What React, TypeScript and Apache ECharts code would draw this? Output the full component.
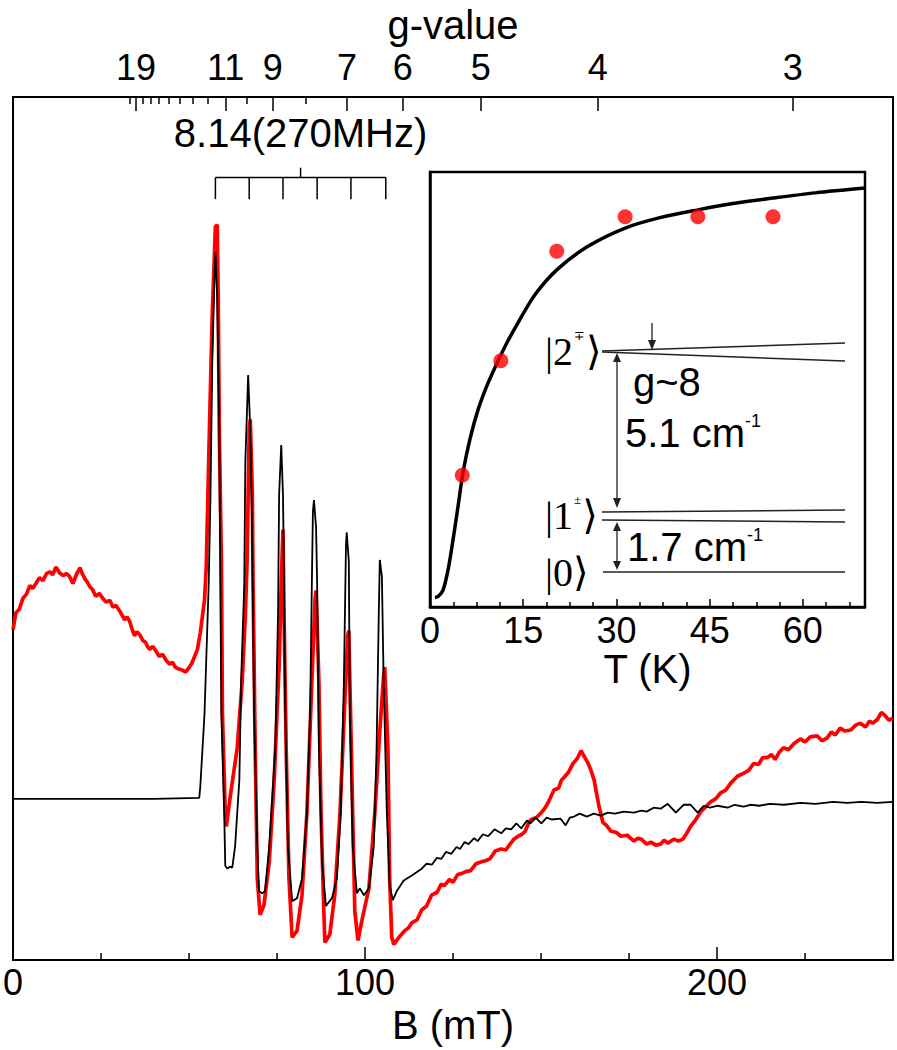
import React, { useEffect, useRef } from "react";
import * as echarts from "echarts";

// ---------- constants / data ----------
const NU_GHZ = 9.3; // microwave frequency
const H_OVER_MUB = 71.448; // mT per GHz for g = 1
const gToB = (g: number) => (H_OVER_MUB * NU_GHZ) / g;

const B_LABELS = [0, 100, 200];
const B_MAJOR_TICKS = [100, 200];
const B_MINOR_TICKS = [25, 50, 75, 125, 150, 175, 225];

const G_LABELS = [19, 11, 9, 7, 6, 5, 4, 3];
const G_MINOR = [20, 18, 17, 16, 15, 14, 13, 12, 10, 8];

const T_LABELS = [0, 15, 30, 45, 60];
const T_MINOR = [3.75, 7.5, 11.25, 18.75, 22.5, 26.25, 33.75, 37.5, 41.25, 48.75, 52.5, 56.25, 63.75, 67.5];

// bracket for the 8.14 (270 MHz) hyperfine pattern (mT)
const BRACKET_B = [57.5, 67.1, 76.7, 86.4, 96.0, 105.9];
const BRACKET_LABEL = "8.14(270MHz)";

// EPR spectrum, black trace: [B (mT), intensity (a.u.)]
const blackSpectrum: [number, number][] = [
  [0, 0.1], [20, 0.1], [40, 0.1], [52.9, 0.2], [53.2, 1.3], [54.4, 8.7], [55.6, 22.0], [56.1, 31.0],
  [56.6, 44.3], [57.2, 52.7], [57.5, 55.7], [58.0, 51.0], [58.6, 37.7], [58.9, 22.0], [59.2, 8.7],
  [60.0, -1.3], [60.3, -6.7], [60.9, -7.0], [61.6, -6.8], [62.3, -6.9], [63.1, -4.7], [64.3, 2.0],
  [64.8, 12.0], [65.7, 22.0], [66.0, 34.3], [66.8, 43.2], [67.4, 37.7], [67.9, 27.7], [68.5, 8.7],
  [69.4, -4.7], [69.9, -9.3], [70.8, -9.5], [71.6, -9.3], [72.8, -4.7], [74.5, 5.3], [75.3, 19.0],
  [75.6, 31.0], [76.2, 36.1], [76.7, 31.0], [77.0, 22.0], [77.3, 10.0], [78.1, -4.7], [79.3, -10.3],
  [80.7, -10.0], [82.1, -8.0], [83.5, -1.3], [84.4, 8.7], [84.9, 22.0], [85.2, 29.3], [85.5, 30.5],
  [86.1, 27.7], [86.4, 22.0], [86.9, 5.3], [87.8, -6.3], [88.9, -10.8], [90.6, -10.0], [92.0, -8.0],
  [93.1, -1.3], [94.0, 12.0], [94.6, 26.0], [94.8, 27.2], [95.4, 24.3], [95.7, 8.7], [96.5, -4.7],
  [97.7, -9.5], [98.5, -9.0], [99.7, -9.7], [101.1, -9.0], [102.5, -4.7], [103.3, 5.3], [103.9, 18.7],
  [104.2, 24.4], [104.8, 22.7], [105.3, 12.0], [106.2, -1.3], [107.0, -8.7], [107.9, -10.2],
  [109.0, -9.3], [111.0, -8.2], [113.3, -7.7], [116.1, -7.0], [117.5, -6.5], [119.0, -6.6],
  [120.4, -5.9], [121.7, -6.0], [123.0, -5.3], [124.5, -5.5], [126.0, -4.8], [127.0, -5.0],
  [128.3, -4.3], [129.4, -4.5], [131.0, -3.9], [132.0, -4.2], [133.5, -3.5], [135.0, -3.7],
  [136.8, -3.0], [138.7, -3.4], [140.0, -2.9], [141.5, -3.0], [143.0, -2.4], [144.4, -2.9],
  [146.0, -2.1], [147.0, -2.4], [148.5, -1.8], [150.1, -2.4], [151.6, -1.8], [153.0, -2.0],
  [155.5, -1.9], [157.0, -2.6], [158.2, -1.8], [159.4, -1.7], [161.0, -1.4], [163.0, -1.7],
  [165.0, -1.4], [167.0, -1.6], [169.0, -1.3], [171.0, -1.4], [173.5, -1.2], [176.4, -1.3],
  [178.5, -1.1], [180.0, -1.2], [182.0, -0.8], [184.0, -0.9], [186.0, -0.4], [188.3, -1.3],
  [190.5, -0.5], [192.5, -0.5], [194.5, -1.3], [196.2, -0.6], [198.0, -0.8], [200.2, -0.6],
  [203.0, -0.8], [205.0, -0.5], [207.5, -0.7], [209.5, -0.5], [212.0, -0.6], [215.0, -0.4],
  [219.0, -0.5], [223.7, -0.3], [228.0, -0.4], [233.0, -0.2], [237.0, -0.3], [241.0, -0.2],
  [245.5, -0.3], [250.0, -0.2],
];

// EPR spectrum, red trace: [B (mT), intensity (a.u.)]
const redSpectrum: [number, number][] = [
  [0.0, 17.3], [0.8, 19.0], [1.8, 19.4], [2.8, 20.5], [3.8, 20.9], [4.8, 21.8], [5.6, 21.5],
  [6.5, 22.0], [7.5, 22.6], [8.5, 22.3], [9.5, 23.0], [10.5, 23.2], [11.3, 22.9], [12.2, 23.7],
  [13.2, 23.1], [14.2, 22.8], [15.2, 23.0], [16.1, 22.7], [17.0, 22.0], [18.0, 22.9], [19.0, 23.6],
  [19.7, 23.0], [20.4, 22.5], [21.2, 22.1], [21.8, 21.7], [22.6, 21.4], [23.5, 20.7], [24.5, 21.0],
  [25.5, 20.5], [26.5, 20.1], [27.5, 20.3], [28.4, 19.6], [29.2, 19.8], [30.5, 19.1], [31.7, 18.3],
  [32.4, 18.6], [33.1, 18.2], [33.8, 17.4], [34.5, 16.7], [35.2, 17.1], [36.0, 16.8], [36.9, 16.2],
  [37.7, 16.0], [38.2, 15.6], [38.8, 15.3], [39.7, 15.6], [40.5, 15.2], [41.5, 14.6], [42.5, 14.8],
  [43.5, 14.2], [44.5, 13.8], [45.3, 14.0], [46.1, 13.5], [47.1, 13.3], [48.1, 13.2], [49.1, 13.0],
  [50.1, 13.5], [50.8, 13.9], [51.5, 14.5], [52.4, 15.3], [53.2, 17.0], [54.4, 20.3], [54.9, 23.7],
  [55.8, 37.7], [56.6, 49.3], [57.5, 58.3], [58.0, 58.5], [58.3, 51.0], [58.6, 37.7], [59.2, 24.3],
  [59.5, 8.7], [60.3, -1.3], [60.6, -2.7], [61.7, 0.3], [63.7, 5.3], [65.1, 12.0], [66.0, 18.7],
  [66.5, 24.3], [67.1, 37.7], [67.4, 38.7], [68.0, 31.0], [68.2, 22.0], [68.8, 5.3], [69.4, -8.0],
  [70.2, -11.7], [71.3, -10.7], [72.8, -6.3], [74.2, 2.0], [75.6, 13.7], [76.2, 22.0], [76.7, 27.5],
  [77.0, 18.7], [77.6, 5.3], [78.4, -8.0], [79.3, -14.0], [80.7, -13.3], [82.1, -9.7], [83.5, -1.3],
  [84.9, 12.0], [85.8, 20.3], [86.1, 21.3], [86.9, 12.0], [87.5, -1.3], [88.3, -11.3], [88.6, -14.5],
  [90.0, -13.7], [91.4, -9.7], [92.9, -1.3], [94.3, 10.3], [95.1, 16.7], [95.4, 17.2], [95.7, 12.0],
  [96.5, -1.3], [97.1, -11.3], [98.0, -14.3], [99.1, -12.3], [101.1, -9.0], [102.8, -1.3],
  [104.2, 7.0], [105.3, 12.7], [105.6, 13.5], [106.5, 5.3], [107.0, -8.0], [107.6, -14.0],
  [108.2, -14.7], [109.6, -14.0], [111.3, -13.3], [112.4, -13.0], [113.3, -12.5], [114.8, -12.2],
  [116.1, -11.2], [117.5, -10.8], [118.9, -9.7], [120.5, -9.4], [121.6, -8.6], [122.6, -8.7],
  [124.0, -8.1], [125.0, -8.4], [126.3, -7.6], [127.4, -7.5], [128.6, -7.3], [130.0, -7.2],
  [131.5, -6.5], [133.1, -6.3], [134.2, -6.2], [135.5, -6.0], [137.0, -5.2], [138.7, -5.0],
  [140.0, -5.1], [141.0, -4.6], [142.3, -4.0], [143.5, -3.7], [144.6, -3.5], [145.5, -3.2],
  [146.4, -2.4], [147.2, -2.0], [148.7, -1.8], [150.1, -1.3], [151.0, -0.9], [152.0, -0.3],
  [152.9, 0.4], [153.7, 1.0], [155.0, 1.2], [155.8, 2.0], [156.6, 2.3], [157.8, 2.8], [159.1, 3.7],
  [160.3, 4.2], [161.4, 5.0], [162.3, 4.4], [163.4, 3.7], [164.2, 3.0], [165.1, 2.0], [165.8, 0.6],
  [166.5, -0.7], [167.6, -2.3], [168.6, -2.6], [169.9, -3.2], [171.3, -3.3], [172.7, -3.7],
  [174.5, -3.6], [176.4, -4.2], [177.5, -3.9], [178.5, -4.0], [180.0, -4.5], [181.2, -4.3],
  [182.6, -4.6], [184.0, -4.5], [185.0, -4.1], [186.0, -4.4], [187.7, -4.0], [189.0, -4.2],
  [190.3, -4.0], [191.4, -3.4], [192.5, -2.7], [194.0, -2.0], [195.4, -1.2], [196.8, -0.7],
  [198.2, -0.2], [199.6, 0.1], [201.0, 0.7], [202.5, 1.0], [203.9, 1.7], [205.8, 2.4], [207.5, 2.7],
  [209.0, 3.0], [210.4, 3.7], [211.8, 3.6], [213.0, 4.3], [214.3, 4.3], [215.5, 4.6], [216.5, 4.1],
  [217.8, 4.9], [218.9, 5.3], [220.3, 5.1], [221.8, 5.7], [223.7, 6.2], [225.0, 5.9], [226.5, 6.4],
  [228.5, 6.5], [229.8, 6.0], [231.3, 6.3], [232.5, 6.9], [233.6, 6.6], [235.0, 7.3], [236.3, 7.0],
  [238.0, 7.1], [239.4, 7.6], [240.7, 7.8], [242.2, 7.4], [243.3, 8.0], [244.3, 7.8], [245.6, 8.2],
  [246.7, 8.9], [247.7, 8.6], [248.8, 8.1], [250.0, 8.3],
];

// inset: temperature dependence [T (K), normalized intensity]
const insetTemps = [5.2, 11.4, 20.4, 31.4, 43.1, 55.2];
const insetIntensity = [0.303, 0.566, 0.818, 0.897, 0.897, 0.897];
const insetFit: [number, number][] = [
  [0.8, 0.022], [1.3, 0.024], [2.1, 0.039], [2.9, 0.085], [3.7, 0.154], [4.5, 0.23], [5.3, 0.308],
  [6.4, 0.384], [7.7, 0.452], [9.2, 0.51], [10.8, 0.561], [12.4, 0.608], [14.5, 0.662],
  [17.0, 0.72], [20.4, 0.775], [25.3, 0.828], [31.4, 0.871], [37.0, 0.895], [43.1, 0.913],
  [49.0, 0.928], [55.2, 0.94], [62.0, 0.952], [70.0, 0.963],
];

const FONT = '"Liberation Sans", Arial, Helvetica, sans-serif';
const SERIF = '"Liberation Serif", "DejaVu Serif", "DejaVu Sans", serif';

export default function App() {
  const ref = useRef<HTMLDivElement>(null);

  useEffect(() => {
    document.body.style.margin = "0";
    if (!ref.current) return;
    const chart = echarts.init(ref.current, undefined, { renderer: "svg" });

    const tickStyle = { color: "#000", width: 1.5 };
    const labelBase = { color: "#000", fontSize: 36, fontFamily: FONT };
    const nameStyle = { color: "#000", fontSize: 40, fontFamily: FONT };
    const levelRich = {
      a: { fontSize: 40, fontFamily: SERIF, color: "#444", lineHeight: 44 },
      s: { fontSize: 13, fontFamily: SERIF, color: "#444", verticalAlign: "top", lineHeight: 30, padding: [0, 1, 0, 1] },
    };

    const option: any = {
      animation: false,
      backgroundColor: "#fff",
      grid: [
        { left: 10, right: 4, top: 85, bottom: 87, show: true, borderColor: "#000", borderWidth: 2, containLabel: false },
        { left: 430, top: 172, width: 435, height: 435, show: true, borderColor: "#000", borderWidth: 2.5, backgroundColor: "#fff", containLabel: false },
      ],
      xAxis: [
        {
          type: "value", gridIndex: 0, position: "bottom", min: 0, max: 250,
          axisLine: { show: true, onZero: false, lineStyle: { color: "#000", width: 2 } },
          axisTick: { show: true, inside: true, length: 7, customValues: B_MINOR_TICKS, lineStyle: tickStyle },
          axisLabel: { show: true, customValues: B_LABELS, margin: 4, ...labelBase },
          splitLine: { show: false },
          name: "B (mT)", nameLocation: "middle", nameGap: 39, nameTextStyle: nameStyle,
        },
        {
          type: "value", gridIndex: 0, position: "bottom", min: 0, max: 250,
          axisLine: { show: false, onZero: false },
          axisTick: { show: true, inside: true, length: 13, customValues: B_MAJOR_TICKS, lineStyle: tickStyle },
          axisLabel: { show: false }, splitLine: { show: false },
        },
        {
          type: "value", gridIndex: 0, position: "top", min: 0, max: 250,
          axisLine: { show: true, onZero: false, lineStyle: { color: "#000", width: 2 } },
          axisTick: { show: true, inside: true, length: 14, customValues: G_LABELS.map(gToB), lineStyle: tickStyle },
          axisLabel: {
            show: true, customValues: G_LABELS.map(gToB), margin: 11, ...labelBase,
            formatter: (v: number) => String(Math.round((H_OVER_MUB * NU_GHZ) / v)),
          },
          splitLine: { show: false },
          name: "g-value", nameLocation: "middle", nameGap: 40, nameTextStyle: nameStyle,
        },
        {
          type: "value", gridIndex: 0, position: "top", min: 0, max: 250,
          axisLine: { show: false, onZero: false },
          axisTick: { show: true, inside: true, length: 7, customValues: G_MINOR.map(gToB), lineStyle: tickStyle },
          axisLabel: { show: false }, splitLine: { show: false },
        },
        {
          type: "value", gridIndex: 1, position: "bottom", min: 0, max: 70,
          axisLine: { show: true, onZero: false, lineStyle: { color: "#000", width: 2.5 } },
          axisTick: { show: true, inside: true, length: 8, customValues: T_LABELS, lineStyle: tickStyle },
          axisLabel: { show: true, customValues: T_LABELS, margin: 5, ...labelBase },
          splitLine: { show: false },
          name: "T (K)", nameLocation: "middle", nameGap: 40, nameTextStyle: nameStyle,
        },
        {
          type: "value", gridIndex: 1, position: "bottom", min: 0, max: 70,
          axisLine: { show: false, onZero: false },
          axisTick: { show: true, inside: true, length: 5, customValues: T_MINOR, lineStyle: tickStyle },
          axisLabel: { show: false }, splitLine: { show: false },
        },
      ],
      yAxis: [
        {
          type: "value", gridIndex: 0, min: -16.3, max: 71.5,
          axisLine: { show: true, onZero: false, lineStyle: { color: "#000", width: 2 } },
          axisTick: { show: false }, axisLabel: { show: false }, splitLine: { show: false },
        },
        {
          type: "value", gridIndex: 1, min: 0, max: 1,
          axisLine: { show: true, onZero: false, lineStyle: { color: "#000", width: 2.5 } },
          axisTick: { show: false }, axisLabel: { show: false }, splitLine: { show: false },
        },
      ],
      series: [
        {
          type: "line", xAxisIndex: 0, yAxisIndex: 0, data: redSpectrum, showSymbol: false,
          lineStyle: { color: "#ff0000", width: 3.7 }, z: 2,
        },
        {
          type: "line", xAxisIndex: 0, yAxisIndex: 0, data: blackSpectrum, showSymbol: false,
          lineStyle: { color: "#000", width: 1.8 }, z: 3,
        },
        {
          type: "custom", xAxisIndex: 0, yAxisIndex: 0, data: [[0, 0]], silent: true, z: 4,
          renderItem: (_p: any, api: any) => {
            const yBar = 63.3, yFoot = 61.1, yTop = 64.3, yText = 67.8;
            const pts = BRACKET_B.map((b) => api.coord([b, yBar]));
            const foot = api.coord([BRACKET_B[0], yFoot])[1];
            const first = pts[0], last = pts[pts.length - 1];
            const midB = (BRACKET_B[0] + BRACKET_B[BRACKET_B.length - 1]) / 2;
            const mid = api.coord([midB, yTop]);
            const textPos = api.coord([midB, yText]);
            const ls = { stroke: "#000", lineWidth: 1.5 };
            const children: any[] = [
              { type: "line", shape: { x1: first[0], y1: first[1], x2: last[0], y2: last[1] }, style: ls },
              { type: "line", shape: { x1: mid[0], y1: first[1], x2: mid[0], y2: mid[1] }, style: ls },
              ...pts.map((p: number[]) => ({ type: "line", shape: { x1: p[0], y1: p[1], x2: p[0], y2: foot }, style: ls })),
              {
                type: "text", x: textPos[0], y: textPos[1],
                style: { text: BRACKET_LABEL, fill: "#000", fontSize: 40, fontFamily: FONT, align: "center", verticalAlign: "middle" },
              },
            ];
            return { type: "group", children };
          },
        },
        {
          type: "line", xAxisIndex: 4, yAxisIndex: 1, data: insetFit, showSymbol: false, smooth: 0.3,
          lineStyle: { color: "#000", width: 3.5 }, z: 3,
        },
        {
          type: "scatter", xAxisIndex: 4, yAxisIndex: 1,
          data: insetTemps.map((t, i) => [t, insetIntensity[i]]),
          symbol: "circle", symbolSize: 15, itemStyle: { color: "#ff0000" }, z: 4,
        },
      ],
      graphic: [
        // level labels
        { type: "text", x: 545, y: 351, z: 10, style: { text: "{a||2}{s|∓}{a|⟩}", rich: levelRich, verticalAlign: "middle" } },
        { type: "text", x: 545, y: 515, z: 10, style: { text: "{a||1}{s|±}{a|⟩}", rich: levelRich, verticalAlign: "middle" } },
        { type: "text", x: 545, y: 572, z: 10, style: { text: "{a||0⟩}", rich: levelRich, verticalAlign: "middle" } },
        // level lines
        { type: "line", z: 10, shape: { x1: 602, y1: 351, x2: 845, y2: 343 }, style: { stroke: "#222", lineWidth: 1.5 } },
        { type: "line", z: 10, shape: { x1: 602, y1: 352, x2: 845, y2: 361 }, style: { stroke: "#222", lineWidth: 1.5 } },
        { type: "line", z: 10, shape: { x1: 602, y1: 512, x2: 845, y2: 510 }, style: { stroke: "#222", lineWidth: 1.5 } },
        { type: "line", z: 10, shape: { x1: 602, y1: 520, x2: 845, y2: 522 }, style: { stroke: "#222", lineWidth: 1.5 } },
        { type: "line", z: 10, shape: { x1: 603, y1: 572, x2: 845, y2: 572 }, style: { stroke: "#222", lineWidth: 1.5 } },
        // small arrow
        { type: "line", z: 10, shape: { x1: 652, y1: 323, x2: 652, y2: 342 }, style: { stroke: "#222", lineWidth: 1.3 } },
        { type: "polygon", z: 10, shape: { points: [[648, 340], [656, 340], [652, 350]] }, style: { fill: "#222" } },
        // double arrow 5.1
        { type: "line", z: 10, shape: { x1: 617, y1: 360, x2: 617, y2: 500 }, style: { stroke: "#222", lineWidth: 1.3 } },
        { type: "polygon", z: 10, shape: { points: [[613, 362], [621, 362], [617, 353]] }, style: { fill: "#222" } },
        { type: "polygon", z: 10, shape: { points: [[613, 498], [621, 498], [617, 508]] }, style: { fill: "#222" } },
        // double arrow 1.7
        { type: "line", z: 10, shape: { x1: 617, y1: 528, x2: 617, y2: 563 }, style: { stroke: "#222", lineWidth: 1.3 } },
        { type: "polygon", z: 10, shape: { points: [[613, 531], [621, 531], [617, 522]] }, style: { fill: "#222" } },
        { type: "polygon", z: 10, shape: { points: [[613, 561], [621, 561], [617, 570]] }, style: { fill: "#222" } },
        // texts
        { type: "text", x: 633, y: 382, z: 10, style: { text: "g~8", fill: "#000", fontSize: 40, fontFamily: FONT, verticalAlign: "middle" } },
        { type: "text", x: 625, y: 433, z: 10, style: { text: "5.1 cm", fill: "#000", fontSize: 40, fontFamily: FONT, verticalAlign: "middle" } },
        { type: "text", x: 745, y: 421, z: 10, style: { text: "-1", fill: "#000", fontSize: 18, fontFamily: FONT, verticalAlign: "middle" } },
        { type: "text", x: 627, y: 547, z: 10, style: { text: "1.7 cm", fill: "#000", fontSize: 40, fontFamily: FONT, verticalAlign: "middle" } },
        { type: "text", x: 747, y: 535, z: 10, style: { text: "-1", fill: "#000", fontSize: 18, fontFamily: FONT, verticalAlign: "middle" } },
      ],
    };

    chart.setOption(option);
    return () => chart.dispose();
  }, []);

  return <div ref={ref} style={{ width: 897, height: 1050 }} />;
}
